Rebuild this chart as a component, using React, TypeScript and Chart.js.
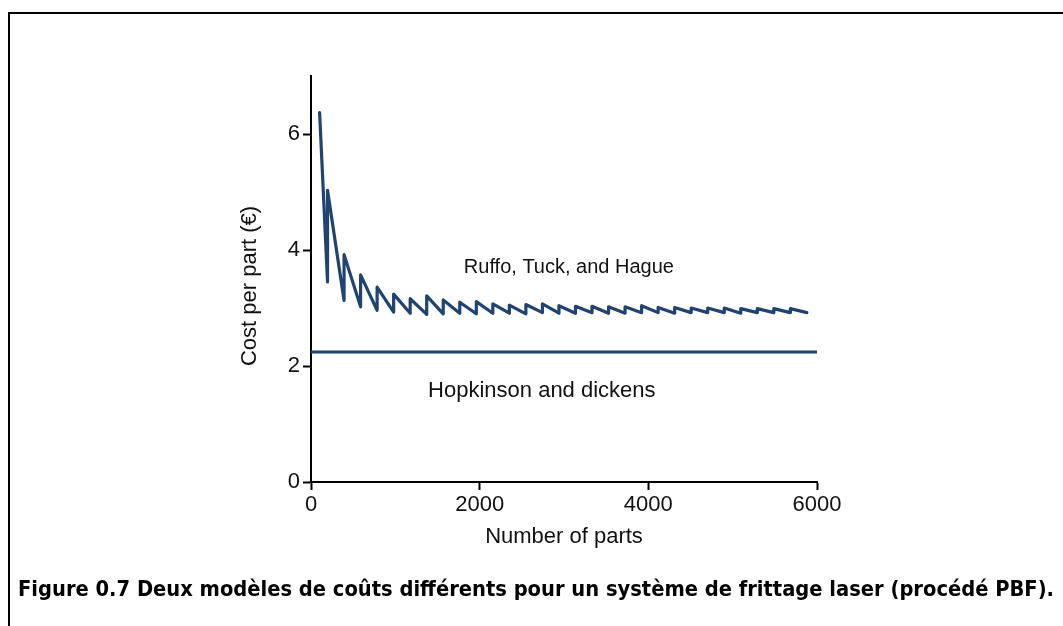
import React, { useEffect, useRef } from 'react';
import { Chart, registerables } from 'chart.js';

Chart.register(...registerables);

// ---- Data ----
const xTickValues = [0, 2000, 4000, 6000];
const yTickValues = [0, 2, 4, 6];

// Ruffo, Tuck, and Hague: first point, then one trough (build full) and one
// peak (new build started) at each build limit.
const ruffoStartParts = 102;
const ruffoStartCost = 6.37;
const buildLimits = [
  196, 392, 588, 784, 980, 1176, 1372, 1568, 1764, 1960,
  2156, 2352, 2548, 2744, 2940, 3136, 3332, 3528, 3724, 3920,
  4116, 4312, 4508, 4704, 4900, 5096, 5292, 5488, 5684, 5880,
];
const troughCost = [
  3.45, 3.13, 3.02, 2.96, 2.93, 2.91, 2.89, 2.90, 2.91, 2.90,
  2.91, 2.91, 2.90, 2.92, 2.91, 2.91, 2.92, 2.91, 2.91, 2.92,
  2.92, 2.91, 2.92, 2.92, 2.92, 2.91, 2.92, 2.92, 2.92, 2.92,
];
const peakCost = [
  5.03, 3.92, 3.57, 3.36, 3.24, 3.16, 3.21, 3.14, 3.10, 3.11,
  3.07, 3.05, 3.06, 3.07, 3.04, 3.03, 3.03, 3.02, 3.02, 3.04,
  3.01, 3.01, 3.00, 3.00, 3.00, 2.99, 2.99, 2.99, 2.99,
];

// Hopkinson and Dickens: flat cost
const hopkinsonParts = [0, 6000];
const hopkinsonCost = [2.24, 2.24];

// Text labels placed in data coordinates
const ruffoLabel = { text: 'Ruffo, Tuck, and Hague', x: 3058, y: 3.69, size: 20 };
const hopkinsonLabel = { text: 'Hopkinson and dickens', x: 2737, y: 1.57, size: 22 };
const yTitle = { text: 'Cost per part (€)', y: 3.38 };

const LINE_COLOR = '#21436f';
const FONT = '"Liberation Sans", Arial, sans-serif';

export default function App() {
  const ref = useRef<HTMLCanvasElement>(null);

  useEffect(() => {
    if (!ref.current) return;
    const ruffo: { x: number; y: number }[] = [{ x: ruffoStartParts, y: ruffoStartCost }];
    buildLimits.forEach((p, i) => {
      ruffo.push({ x: p, y: troughCost[i] });
      if (i < peakCost.length) ruffo.push({ x: p, y: peakCost[i] });
    });
    const hopkinson = hopkinsonParts.map((p, i) => ({ x: p, y: hopkinsonCost[i] }));

    const labelPlugin = {
      id: 'labels',
      afterDatasetsDraw(chart: any) {
        const ctx = chart.ctx;
        const xs = chart.scales.x;
        const ys = chart.scales.y;
        ctx.save();
        ctx.fillStyle = '#111';
        ctx.textAlign = 'center';
        ctx.textBaseline = 'middle';
        [ruffoLabel, hopkinsonLabel].forEach((l) => {
          ctx.font = `${l.size}px ${FONT}`;
          ctx.fillText(l.text, xs.getPixelForValue(l.x), ys.getPixelForValue(l.y));
        });
        // y-axis title
        ctx.font = `22px ${FONT}`;
        ctx.translate(chart.chartArea.left - 61, ys.getPixelForValue(yTitle.y));
        ctx.rotate(-Math.PI / 2);
        ctx.fillText(yTitle.text, 0, 0);
        ctx.restore();
      },
    };

    const chart = new Chart(ref.current, {
      type: 'line',
      data: {
        datasets: [
          {
            label: 'Ruffo, Tuck, and Hague',
            data: ruffo,
            borderColor: LINE_COLOR,
            borderWidth: 3.2,
            pointRadius: 0,
            tension: 0,
            fill: false,
            borderJoinStyle: 'round',
            borderCapStyle: 'round',
          },
          {
            label: 'Hopkinson and dickens',
            data: hopkinson,
            borderColor: LINE_COLOR,
            borderWidth: 3,
            pointRadius: 0,
            tension: 0,
            fill: false,
          },
        ],
      },
      options: {
        animation: false,
        responsive: false,
        events: [],
        layout: { padding: { left: 237, top: 76, right: 246, bottom: 76 } },
        plugins: { legend: { display: false }, tooltip: { enabled: false } },
        scales: {
          x: {
            type: 'linear',
            min: 0,
            max: 6000,
            afterBuildTicks: (s: any) => {
              s.ticks = xTickValues.map((v) => ({ value: v }));
            },
            afterFit: (s: any) => {
              s.height = 68;
            },
            ticks: {
              color: '#111',
              font: { family: FONT, size: 22 },
              padding: 2,
              maxRotation: 0,
              callback: (v: any) => String(v),
            },
            grid: { drawOnChartArea: false, tickLength: 8, tickWidth: 2, tickColor: '#000' },
            border: { display: true, color: '#000', width: 2 },
            title: {
              display: true,
              text: 'Number of parts',
              color: '#111',
              font: { family: FONT, size: 22 },
              padding: 0,
            },
          },
          y: {
            type: 'linear',
            min: 0,
            max: 7,
            afterBuildTicks: (s: any) => {
              s.ticks = yTickValues.map((v) => ({ value: v }));
            },
            afterFit: (s: any) => {
              s.width = 74;
            },
            ticks: {
              color: '#111',
              font: { family: FONT, size: 22 },
              padding: 3,
              callback: (v: any) => String(v),
            },
            grid: { drawOnChartArea: false, tickLength: 8, tickWidth: 2, tickColor: '#000' },
            border: { display: true, color: '#000', width: 2 },
          },
        },
      },
      plugins: [labelPlugin],
    } as any);
    return () => chart.destroy();
  }, []);

  return (
    <div
      style={{
        position: 'fixed',
        left: 0,
        top: 0,
        width: 1063,
        height: 626,
        overflow: 'hidden',
        background: '#fff',
      }}
    >
      <div
        style={{
          position: 'absolute',
          left: 8,
          top: 12,
          width: 1200,
          height: 800,
          borderTop: '2px solid #000',
          borderLeft: '2px solid #000',
        }}
      />
      <canvas
        ref={ref}
        width={1063}
        height={626}
        style={{ position: 'absolute', left: 0, top: 0, width: 1063, height: 626 }}
      />
      <div
        style={{
          position: 'absolute',
          left: 18,
          top: 576,
          fontFamily: '"Liberation Sans Narrow", "DejaVu Sans Condensed", sans-serif',
          fontWeight: 'bold',
          fontSize: 21.7,
          lineHeight: '26px',
          whiteSpace: 'nowrap',
          color: '#000',
        }}
      >
        Figure 0.7 Deux modèles de coûts différents pour un système de frittage laser (procédé PBF).
      </div>
    </div>
  );
}
